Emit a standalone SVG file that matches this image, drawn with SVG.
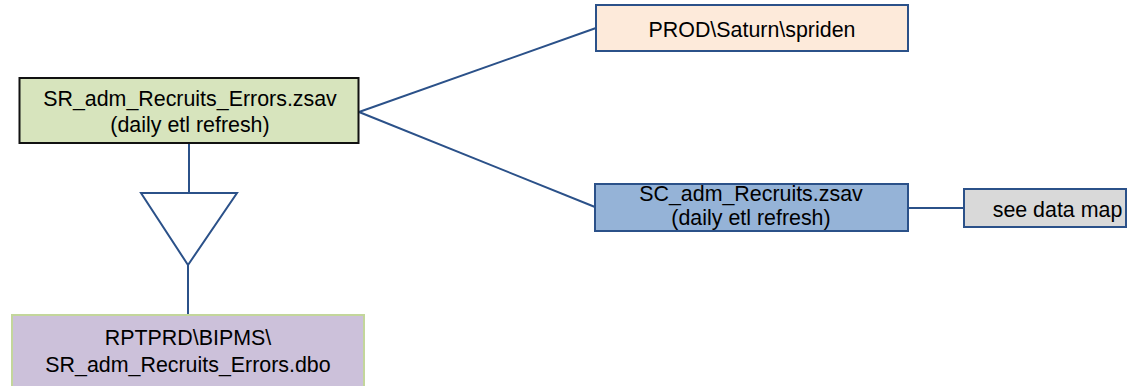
<svg xmlns="http://www.w3.org/2000/svg" width="1129" height="386" viewBox="0 0 1129 386">
<style>
text{font-family:"Liberation Sans",Arial,sans-serif;font-size:21.4px;fill:#000;text-anchor:middle}
.c{fill:none;stroke:#2b5189;stroke-width:2}
</style>
<rect width="1129" height="386" fill="#fff"/>
<g id="connectors">
<line class="c" x1="359" y1="112" x2="596" y2="28"/>
<line class="c" x1="359" y1="112" x2="595" y2="207"/>
<line class="c" x1="908" y1="208" x2="964" y2="208"/>
<line class="c" x1="189" y1="143" x2="189" y2="193"/>
<polygon class="c" points="141,193 237,193 188,265"/>
<line class="c" x1="188" y1="265" x2="188" y2="315"/>
</g>
<g id="node-sr-zsav">
<rect x="19.5" y="78" width="339" height="65" fill="#d7e4bd" stroke="#111" stroke-width="2"/>
<text x="190" y="106">SR_adm_Recruits_Errors.zsav</text>
<text x="190" y="132">(daily etl refresh)</text>
</g>
<g id="node-spriden">
<rect x="596" y="5" width="312" height="46" fill="#fdeada" stroke="#2b5189" stroke-width="2"/>
<text x="752" y="36.5">PROD\Saturn\spriden</text>
</g>
<g id="node-sc-zsav">
<rect x="595" y="184" width="313" height="47" fill="#95b3d7" stroke="#2b5189" stroke-width="2"/>
<text x="751" y="201">SC_adm_Recruits.zsav</text>
<text x="751" y="225">(daily etl refresh)</text>
</g>
<g id="node-datamap">
<rect x="964" y="189" width="162" height="38" fill="#d9d9d9" stroke="#2b5189" stroke-width="2"/>
<text x="1057.5" y="217">see data map</text>
</g>
<g id="node-dbo">
<rect x="12" y="315" width="352" height="80" fill="#ccc1da" stroke="#c3d69b" stroke-width="2"/>
<text x="188" y="345">RPTPRD\BIPMS\</text>
<text x="188" y="372">SR_adm_Recruits_Errors.dbo</text>
</g>
</svg>
